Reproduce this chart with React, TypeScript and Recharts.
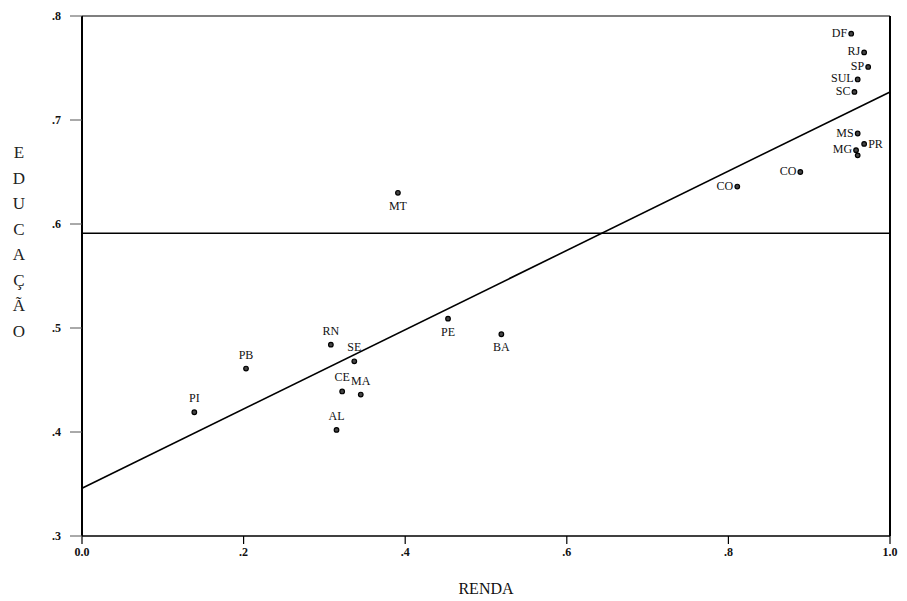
import { ReferenceLine, Scatter, ScatterChart, XAxis, YAxis } from "recharts";

// Educação vs renda por estado.
const states = ["DF", "RJ", "SP", "SUL", "SC", "MS", "PR", "MG", "", "CO", "CO", "MT", "PE", "BA", "RN", "SE", "CE", "MA", "AL", "PB", "PI"];
const renda = [0.952, 0.968, 0.973, 0.96, 0.956, 0.96, 0.968, 0.958, 0.96, 0.889, 0.811, 0.391, 0.453, 0.519, 0.308, 0.337, 0.322, 0.345, 0.315, 0.203, 0.139];
const educacao = [0.783, 0.765, 0.751, 0.739, 0.727, 0.687, 0.677, 0.671, 0.666, 0.65, 0.636, 0.63, 0.509, 0.494, 0.484, 0.468, 0.439, 0.436, 0.402, 0.461, 0.419];

const xTicks = [0, 0.2, 0.4, 0.6, 0.8, 1];
const yTicks = [0.3, 0.4, 0.5, 0.6, 0.7, 0.8];

// média de educação e reta de regressão
const MEAN_EDU = 0.591;
const FIT_A = 0.346;
const FIT_B = 0.381;

// which side of the dot each label sits on (default: above)
const LEFT = ["DF", "RJ", "SP", "SUL", "SC", "MS", "MG", "CO"];
const RIGHT = ["PR"];
const BELOW = ["MT", "PE", "BA"];

const data = states.map((s, i) => ({ name: s, x: renda[i], y: educacao[i] }));

const FONT = "'Liberation Serif', 'DejaVu Serif', serif";
const tickStyle = { fill: "#111", fontSize: 12, fontWeight: 700, fontFamily: FONT };

const fmt = (v: number) => (v === 0 ? "0.0" : v === 1 ? "1.0" : String(+v.toFixed(1)).replace(/^0/, ""));

function Dot(props: any) {
  const { cx, cy, payload } = props;
  const name: string = payload.name;
  let tx = cx;
  let ty = cy - 10;
  let anchor: "start" | "middle" | "end" = "middle";
  if (LEFT.includes(name)) {
    tx = cx - 4;
    ty = cy + 3;
    anchor = "end";
  } else if (RIGHT.includes(name)) {
    tx = cx + 4;
    ty = cy + 4;
    anchor = "start";
  } else if (BELOW.includes(name)) {
    ty = cy + 17;
  }
  return (
    <g>
      <circle cx={cx} cy={cy} r={2.3} fill="#444" stroke="#000" strokeWidth={1.2} />
      {name && (
        <text x={tx} y={ty} textAnchor={anchor} fontSize={12} fontFamily={FONT} fill="#111">
          {name}
        </text>
      )}
    </g>
  );
}

const yTitle = "EDUCAÇÃO".split("");

export default function App() {
  return (
    <div style={{ position: "absolute", left: 0, top: 0, background: "#fff" }}>
      <ScatterChart width={907} height={601} margin={{ top: 16, right: 17, bottom: 0, left: 0 }}>
        <XAxis
          type="number"
          dataKey="x"
          domain={[0, 1]}
          ticks={xTicks}
          tickFormatter={fmt}
          tick={tickStyle}
          tickSize={8}
          tickMargin={3}
          axisLine={{ stroke: "#000", strokeWidth: 1.6 }}
          tickLine={{ stroke: "#000", strokeWidth: 1.2 }}
          height={65}
          label={{ value: "RENDA", position: "insideBottom", offset: 7, fill: "#111", fontSize: 16, fontFamily: FONT }}
        />
        <YAxis
          type="number"
          dataKey="y"
          domain={[0.3, 0.8]}
          ticks={yTicks}
          tickFormatter={fmt}
          tick={tickStyle}
          tickSize={12}
          tickMargin={9}
          axisLine={{ stroke: "#000", strokeWidth: 2 }}
          tickLine={{ stroke: "#555", strokeWidth: 1 }}
          width={82}
          label={{
            content: () => (
              <text x={19} textAnchor="middle" fontSize={17} fontFamily={FONT} fill="#222">
                {yTitle.map((c, i) => (
                  <tspan key={i} x={19} y={158 + i * 25.5}>
                    {c}
                  </tspan>
                ))}
              </text>
            ),
          }}
        />
        <ReferenceLine y={0.8} stroke="#000" strokeWidth={1.2} />
        <ReferenceLine x={1} stroke="#000" strokeWidth={2} />
        <ReferenceLine y={MEAN_EDU} stroke="#000" strokeWidth={1.5} />
        <ReferenceLine
          segment={[
            { x: 0, y: FIT_A },
            { x: 1, y: FIT_A + FIT_B },
          ]}
          stroke="#000"
          strokeWidth={1.6}
        />
        <Scatter data={data} shape={<Dot />} isAnimationActive={false} />
      </ScatterChart>
    </div>
  );
}
